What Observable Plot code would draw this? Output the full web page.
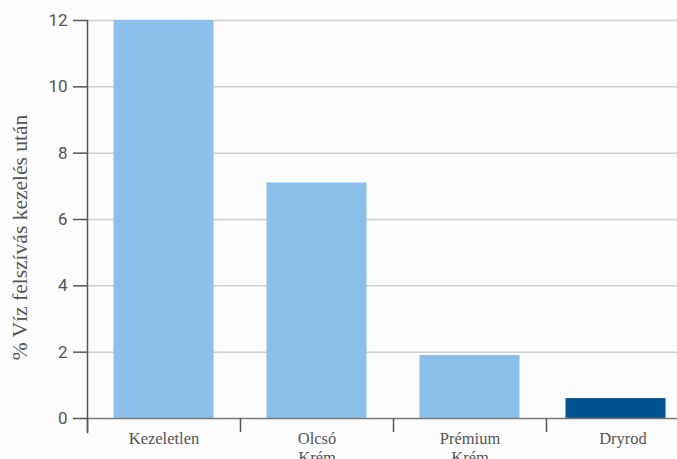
<!DOCTYPE html>
<html>
<head>
<meta charset="utf-8">
<script src="https://cdn.jsdelivr.net/npm/d3@7"></script>
<script src="https://cdn.jsdelivr.net/npm/@observablehq/plot@0.6"></script>
<style>
  html, body { margin: 0; padding: 0; background: #fcfcfc; overflow: hidden; }
</style>
</head>
<body>
<div id="chart"></div>
<script>
const categories = ["Kezeletlen", "Olcsó\nKrém", "Prémium\nKrém", "Dryrod"];
const values = [12, 7.1, 1.9, 0.6];
const highlight = [false, false, false, true];
const yTicks = [0, 2, 4, 6, 8, 10, 12];
const yTitle = "% Víz felszívás kezelés után";

const data = categories.map((c, i) => ({ cat: c, value: values[i], hi: highlight[i] }));
const step = 153;

const chart = Plot.plot({
  width: 677,
  height: 459,
  marginTop: 20,
  marginLeft: 87,
  marginRight: 0,
  marginBottom: 27,
  style: { background: "#fcfcfc", overflow: "hidden" },
  x: { type: "band", domain: categories, range: [87, 87 + step * 4], padding: 0 },
  y: { domain: [0, 12], range: [418, 20] },
  marks: [
    Plot.ruleY(yTicks.filter(d => d > 0), { stroke: "#d0d0d0", strokeWidth: 1.5 }),
    Plot.barY(data.filter(d => !d.hi), { x: "cat", y: "value", fill: "#8cc0ea", insetLeft: 26.5, insetRight: 26.5 }),
    Plot.barY(data.filter(d => d.hi), { x: "cat", y: "value", fill: "#005191", insetLeft: 26.5, insetRight: 26.5, dx: -7 }),
    Plot.ruleY([0], { stroke: "#777", strokeWidth: 1.5 }),
    Plot.frame({ anchor: "left", stroke: "#555", strokeWidth: 1.5 }),
    Plot.axisY({ ticks: yTicks, tickSize: 14, tickPadding: 6, stroke: "#555", strokeWidth: 1.5, fill: "#555",
      fontSize: 17, fontFamily: "Roboto, sans-serif", label: null }),
    Plot.axisX({ tickSize: -14, tickFormat: () => "", dx: -step / 2, stroke: "#555", strokeWidth: 1.5, label: null }),
    Plot.axisX({ tickSize: 0, tickPadding: -1, fill: "#555", fontSize: 16.5,
      fontFamily: "'Liberation Serif', 'DejaVu Serif', serif", lineHeight: 1.1, label: null }),
    Plot.text([yTitle], { frameAnchor: "left", textAnchor: "middle", rotate: -90, dx: -67, dy: 11, fill: "#555", fontSize: 21.5,
      fontFamily: "'Liberation Serif', 'DejaVu Serif', serif" })
  ]
});
document.getElementById("chart").appendChild(chart);
</script>
</body>
</html>
